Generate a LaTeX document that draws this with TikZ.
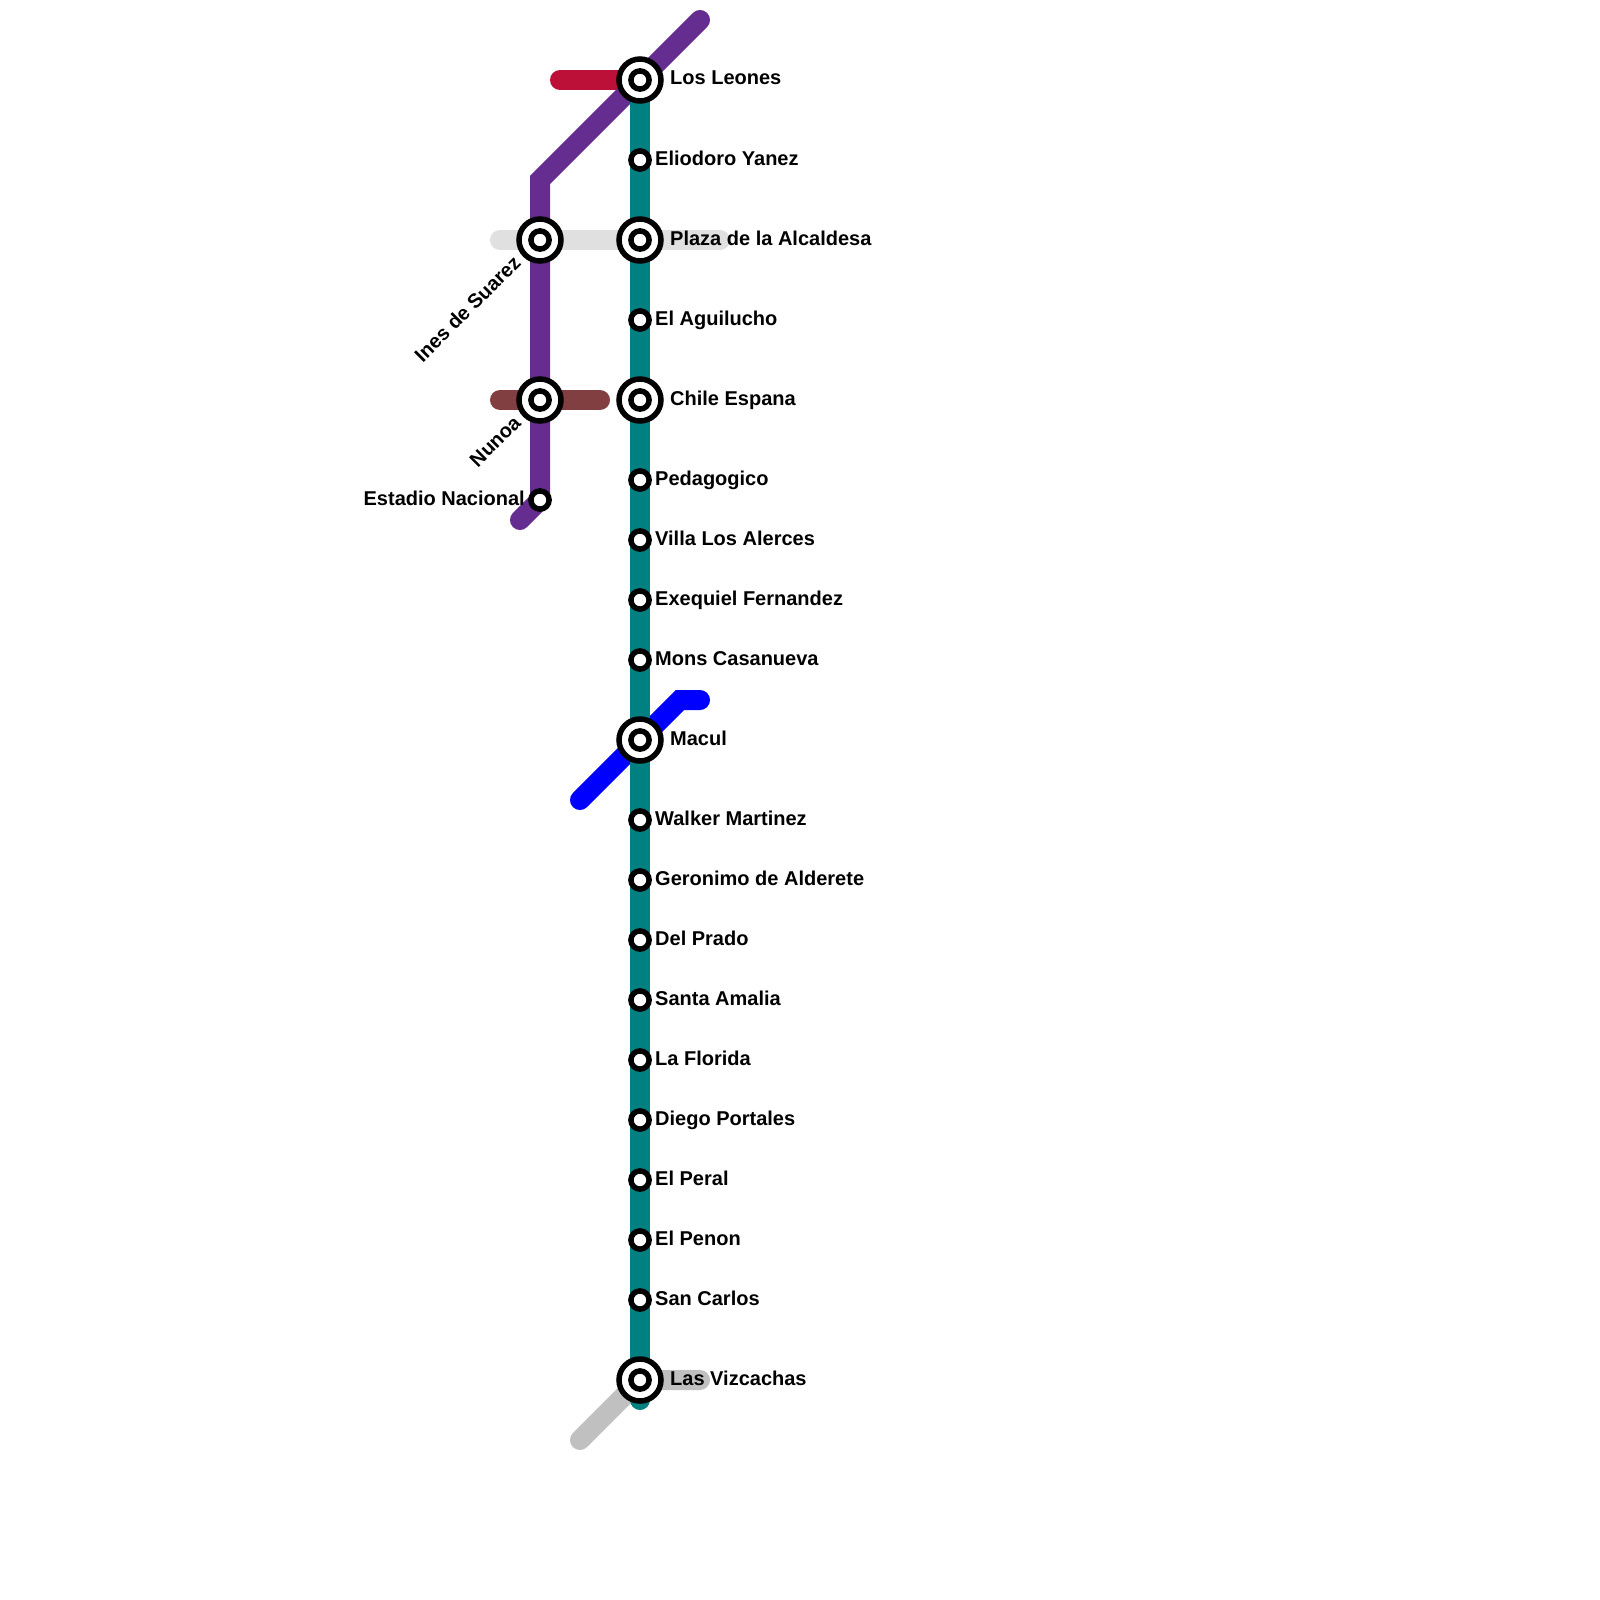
\documentclass[tikz,border=0pt]{standalone}
\usepackage{fontspec}
\setmainfont{Liberation Sans}
\usetikzlibrary{backgrounds}
\definecolor{lteal}{HTML}{008080}
\definecolor{lpurple}{HTML}{662D91}
\definecolor{lred}{HTML}{BD1038}
\definecolor{lpale}{HTML}{E0E0E0}
\definecolor{lbrown}{HTML}{823F41}
\definecolor{lblue}{HTML}{0000FF}
\definecolor{lgrey}{HTML}{C0C0C0}
\tikzset{
  metro/.style={line width=20pt,line cap=round,line join=miter},
  halt/.style={circle,draw=black,fill=white,line width=5.5pt,minimum size=18.2pt,inner sep=0pt},
  hub/.style={circle,draw=black,fill=white,line width=5.5pt,minimum size=42pt,inner sep=0pt,
    path picture={\draw[black,line width=5.5pt] (path picture bounding box.center) circle (9.1pt);}},
  lbl/.style={font=\fontsize{20}{24}\selectfont\bfseries,inner sep=0pt,text=black},
  lblr/.style={lbl,anchor=base west},
  lbll/.style={lbl,anchor=base east},
}
\begin{document}
\begin{tikzpicture}[x=1pt,y=-1pt]
\useasboundingbox (0,0) rectangle (1600,1600);
% free ends and bends
\coordinate (purpleN) at (700,20);
\coordinate (purpleBend) at (540,180);
\coordinate (purpleS) at (520,520);
\coordinate (redW) at (560,80);
\coordinate (paleW) at (500,240);
\coordinate (paleE) at (720,240);
\coordinate (brownW) at (500,400);
\coordinate (brownE) at (600,400);
\coordinate (blueSW) at (580,800);
\coordinate (blueBend) at (680,700);
\coordinate (blueE) at (700,700);
\coordinate (greySW) at (580,1440);
\coordinate (greyE) at (700,1380);
\coordinate (tealS) at (640,1400);
% stations
\node[hub]  (leones) at (640,80) {};
\node[halt] (eliodoro) at (640,160) {};
\node[hub]  (plaza) at (640,240) {};
\node[halt] (aguilucho) at (640,320) {};
\node[hub]  (chile) at (640,400) {};
\node[halt] (pedagogico) at (640,480) {};
\node[halt] (villa) at (640,540) {};
\node[halt] (exequiel) at (640,600) {};
\node[halt] (mons) at (640,660) {};
\node[hub]  (macul) at (640,740) {};
\node[halt] (walker) at (640,820) {};
\node[halt] (geronimo) at (640,880) {};
\node[halt] (delprado) at (640,940) {};
\node[halt] (santa) at (640,1000) {};
\node[halt] (florida) at (640,1060) {};
\node[halt] (diego) at (640,1120) {};
\node[halt] (peral) at (640,1180) {};
\node[halt] (penon) at (640,1240) {};
\node[halt] (carlos) at (640,1300) {};
\node[hub]  (vizcachas) at (640,1380) {};
\node[hub]  (ines) at (540,240) {};
\node[hub]  (nunoa) at (540,400) {};
\node[halt] (estadio) at (540,500) {};
% lines
\begin{pgfonlayer}{background}
\fill[white] (0,0) rectangle (1600,1600);
\draw[metro,lpale] (paleW) -- (ines.center) -- (plaza.center) -- (paleE);
\draw[metro,lgrey] (greySW) -- (vizcachas.center) -- (greyE);
\draw[metro,lred] (redW) -- (leones.center);
\draw[metro,lblue] (blueSW) -- (macul.center) -- (blueBend) -- (blueE);
\draw[metro,lpurple] (purpleN) -- (leones.center) -- (purpleBend) -- (ines.center) -- (nunoa.center) -- (estadio.center) -- (purpleS);
\draw[metro,lbrown] (brownW) -- (nunoa.center) -- (brownE);
\draw[metro,lteal] (leones.center) -- (tealS);
\end{pgfonlayer}
% labels
\node[lblr] (tleones) at (670,85) {Los Leones};
\node[lblr] (teliodoro) at (655,165) {Eliodoro Yanez};
\node[lblr] (tplaza) at (670,245) {Plaza de la Alcaldesa};
\node[lblr] (taguilucho) at (655,325) {El Aguilucho};
\node[lblr] (tchile) at (670,405) {Chile Espana};
\node[lblr] (tpedagogico) at (655,485) {Pedagogico};
\node[lblr] (tvilla) at (655,545) {Villa Los Alerces};
\node[lblr] (texequiel) at (655,605) {Exequiel Fernandez};
\node[lblr] (tmons) at (655,665) {Mons Casanueva};
\node[lblr] (tmacul) at (670,745) {Macul};
\node[lblr] (twalker) at (655,825) {Walker Martinez};
\node[lblr] (tgeronimo) at (655,885) {Geronimo de Alderete};
\node[lblr] (tdelprado) at (655,945) {Del Prado};
\node[lblr] (tsanta) at (655,1005) {Santa Amalia};
\node[lblr] (tflorida) at (655,1065) {La Florida};
\node[lblr] (tdiego) at (655,1125) {Diego Portales};
\node[lblr] (tperal) at (655,1185) {El Peral};
\node[lblr] (tpenon) at (655,1245) {El Penon};
\node[lblr] (tcarlos) at (655,1305) {San Carlos};
\node[lblr] (tvizcachas) at (670,1385) {Las Vizcachas};
\node[lbll] (testadio) at (525,505) {Estadio Nacional};
\node[lbll,rotate=45] (tines) at (522,264) {Ines de Suarez};
\node[lbll,rotate=45] (tnunoa) at (522,424) {Nunoa};
\end{tikzpicture}
\end{document}
